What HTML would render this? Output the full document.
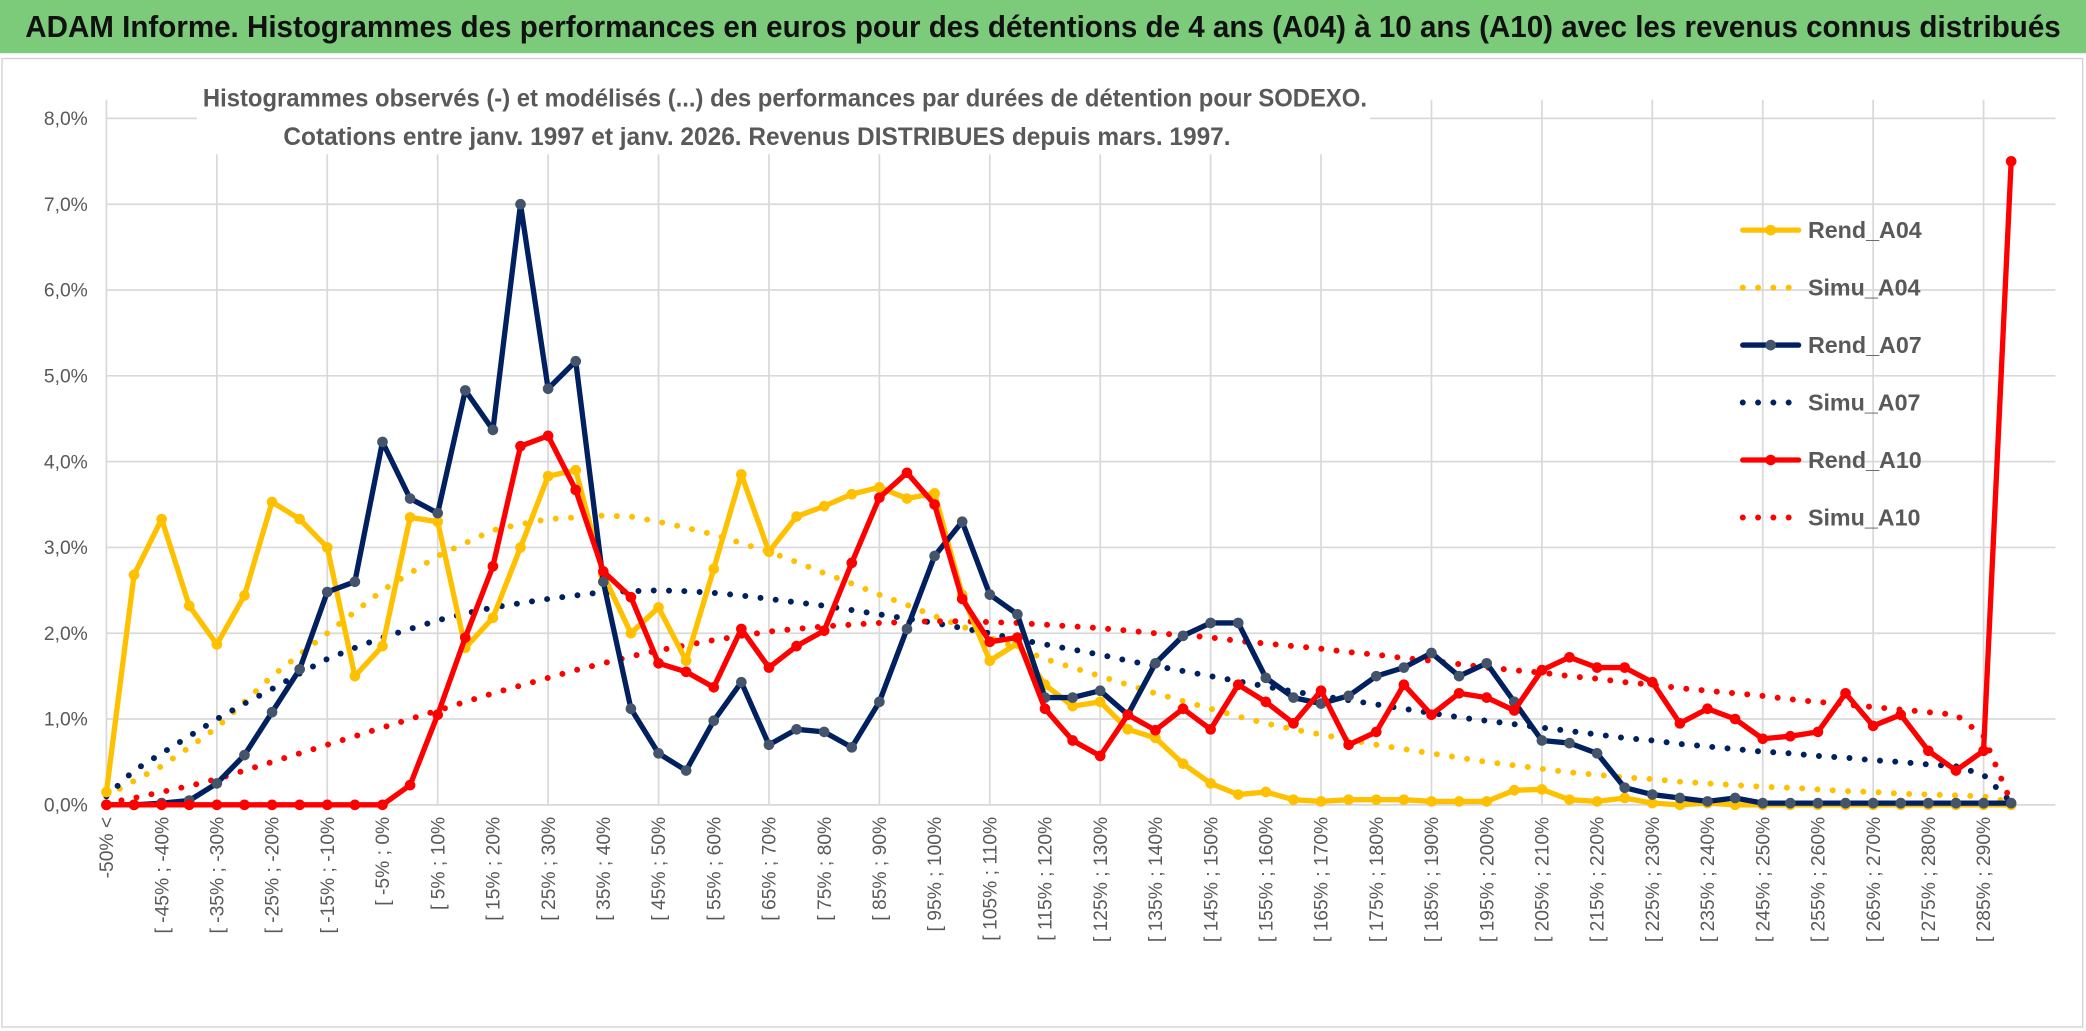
<!DOCTYPE html>
<html><head><meta charset="utf-8">
<style>
html,body{margin:0;padding:0;background:#fff;}
svg{display:block;font-family:"Liberation Sans Narrow","Liberation Sans",sans-serif;}
</style></head>
<body>
<svg id="chart" width="2086" height="1031" viewBox="0 0 1568 775" preserveAspectRatio="none" xmlns="http://www.w3.org/2000/svg">
<rect x="0" y="0" width="1568" height="775" fill="#fff"/>
<rect x="0" y="0" width="1568" height="40" fill="#7ccb7b"/>
<text x="784" y="28" text-anchor="middle" font-size="23" font-weight="bold" fill="#111" textLength="1530" lengthAdjust="spacingAndGlyphs">ADAM Informe. Histogrammes des performances en euros pour des détentions de 4 ans (A04) à 10 ans (A10) avec les revenus connus distribués</text>
<rect x="1.5" y="44" width="1564" height="728" fill="none" stroke="#d0d0d0" stroke-width="1"/>
<g id="grid"></g>
<rect x="148" y="58" width="882" height="58" fill="#fff"/>
<text x="590" y="80" text-anchor="middle" font-size="18.5" font-weight="bold" fill="#595959" textLength="875" lengthAdjust="spacingAndGlyphs">Histogrammes observés (-) et modélisés (...) des performances par durées de détention pour SODEXO.</text>
<text x="569" y="109" text-anchor="middle" font-size="18.5" font-weight="bold" fill="#595959" textLength="712" lengthAdjust="spacingAndGlyphs">Cotations entre janv. 1997 et janv. 2026. Revenus DISTRIBUES depuis mars. 1997.</text>
<g id="axes"></g>
<g id="series"></g>
<g id="legend"></g>
</svg>
<script>
const categories = ["-50% <"];
for (let k = 1; k < 70; k++) { const a = -50 + 5 * (k - 1); categories.push("[ " + a + "% ; " + (a + 5) + "%"); }
const yTicks = [0,1,2,3,4,5,6,7,8];
const seriesNames = ["Rend_A04","Simu_A04","Rend_A07","Simu_A07","Rend_A10","Simu_A10"];
const rendA04 = [0.15,2.68,3.33,2.32,1.87,2.44,3.53,3.33,3.0,1.5,1.85,3.35,3.3,1.83,2.18,3.0,3.83,3.9,2.68,2.0,2.3,1.68,2.75,3.85,2.95,3.36,3.48,3.62,3.7,3.57,3.63,2.45,1.68,1.88,1.4,1.15,1.2,0.88,0.78,0.48,0.25,0.12,0.15,0.06,0.04,0.06,0.06,0.06,0.04,0.04,0.04,0.17,0.18,0.06,0.04,0.08,0.02,0.0,0.02,0.0,0,0,0,0,0,0,0,0,0,0];
const simuA04 = [0.1,0.28,0.45,0.67,0.9,1.2,1.5,1.75,2.0,2.25,2.5,2.7,2.9,3.05,3.2,3.27,3.33,3.35,3.37,3.36,3.3,3.23,3.15,3.05,2.95,2.83,2.7,2.58,2.45,2.33,2.2,2.08,1.95,1.83,1.7,1.6,1.5,1.4,1.3,1.21,1.12,1.03,0.95,0.88,0.82,0.76,0.7,0.65,0.6,0.55,0.5,0.46,0.42,0.38,0.35,0.32,0.3,0.27,0.25,0.23,0.21,0.2,0.18,0.16,0.15,0.13,0.12,0.11,0.1,0.03];
const rendA07 = [0.0,0.0,0.02,0.05,0.25,0.58,1.08,1.58,2.48,2.6,4.23,3.57,3.4,4.83,4.37,7.0,4.85,5.17,2.6,1.12,0.6,0.4,0.98,1.43,0.7,0.88,0.85,0.67,1.2,2.05,2.9,3.3,2.45,2.22,1.25,1.25,1.33,1.05,1.65,1.97,2.12,2.12,1.48,1.25,1.18,1.27,1.5,1.6,1.77,1.5,1.65,1.2,0.75,0.72,0.6,0.2,0.12,0.08,0.04,0.08,0.02,0.02,0.02,0.02,0.02,0.02,0.02,0.02,0.02,0.02];
const simuA07 = [0.1,0.4,0.6,0.8,1.0,1.18,1.35,1.53,1.7,1.83,1.95,2.05,2.15,2.23,2.3,2.35,2.4,2.44,2.48,2.49,2.5,2.49,2.47,2.44,2.4,2.36,2.32,2.27,2.22,2.17,2.12,2.06,2.0,1.93,1.87,1.81,1.75,1.68,1.62,1.56,1.5,1.44,1.38,1.32,1.27,1.22,1.17,1.12,1.07,1.02,0.98,0.94,0.9,0.86,0.82,0.78,0.75,0.71,0.68,0.65,0.62,0.6,0.57,0.55,0.52,0.5,0.47,0.45,0.35,0.03];
const rendA10 = [0,0,0,0,0,0,0,0,0,0,0.0,0.23,1.05,1.95,2.78,4.18,4.3,3.67,2.72,2.42,1.65,1.55,1.37,2.05,1.6,1.85,2.03,2.82,3.58,3.87,3.5,2.4,1.9,1.95,1.12,0.75,0.57,1.05,0.87,1.12,0.88,1.4,1.2,0.95,1.33,0.7,0.85,1.4,1.05,1.3,1.25,1.1,1.57,1.72,1.6,1.6,1.43,0.95,1.12,1.0,0.77,0.8,0.85,1.3,0.92,1.05,0.63,0.4,0.63,7.5];
const simuA10 = [0.02,0.08,0.15,0.22,0.3,0.4,0.5,0.6,0.7,0.8,0.9,1.0,1.1,1.2,1.3,1.39,1.48,1.57,1.65,1.73,1.8,1.86,1.92,1.97,2.02,2.05,2.08,2.1,2.12,2.13,2.14,2.14,2.13,2.12,2.1,2.08,2.06,2.03,2.0,1.98,1.95,1.91,1.88,1.85,1.82,1.78,1.75,1.71,1.68,1.64,1.6,1.57,1.54,1.5,1.47,1.43,1.4,1.36,1.33,1.3,1.27,1.23,1.2,1.17,1.14,1.11,1.08,1.05,0.8,0.03];

const NS = "http://www.w3.org/2000/svg";
const X0 = 80, DX = 20.75, Y0 = 605, DY = 64.5;
function xPos(i){ return X0 + i * DX; }
function yPos(v){ return Y0 - v * DY; }
function mk(tag, attrs, parent){ const e = document.createElementNS(NS, tag); for (const k in attrs) e.setAttribute(k, attrs[k]); parent.appendChild(e); return e; }

const grid = document.getElementById('grid');
yTicks.forEach(t => {
  if (t === 0) return;
  const l = mk('line', {x1: X0, x2: 1545, y1: yPos(t), y2: yPos(t), stroke: '#d9d9d9', 'stroke-width': 1.3}, grid);
  
  
});
for (let i = 0; i < categories.length; i += 4) {
  const l = mk('line', {x1: xPos(i), x2: xPos(i), y1: yPos(8) - 14, y2: Y0, stroke: '#d9d9d9', 'stroke-width': 1.3}, grid);
  
  
}

const axes = document.getElementById('axes');
const xa = mk('line', {x1: X0, x2: 1545, y1: Y0, y2: Y0, stroke: '#d9d9d9', 'stroke-width': 1.3}, axes);


yTicks.forEach(t => {
  const tx = mk('text', {x: 66, y: yPos(t) + 5, 'text-anchor': 'end', 'font-size': 14.5, fill: '#595959'}, axes);
  tx.textContent = t.toFixed(1).replace('.', ',') + '%';
  
  
});
for (let i = 0; i < categories.length; i += 2) {
  const x = xPos(i) + 5, y = 614;
  const tx = mk('text', {x: x, y: y, 'text-anchor': 'end', 'font-size': 14.5, fill: '#595959', transform: 'rotate(-90 ' + x + ' ' + y + ')'}, axes);
  tx.textContent = categories[i];
  
  
}

const series = document.getElementById('series');
function drawSimu(vals, color, name){
  const pts = vals.map((v, i) => xPos(i) + ',' + yPos(v)).join(' ');
  const p = mk('polyline', {points: pts, fill: 'none', stroke: color, 'stroke-width': 4.5, 'stroke-linecap': 'round', 'stroke-dasharray': '0 11.5'}, series);
  
  
}
function drawRend(vals, color, mcolor, name){
  const pts = vals.map((v, i) => xPos(i) + ',' + yPos(v)).join(' ');
  const p = mk('polyline', {points: pts, fill: 'none', stroke: color, 'stroke-width': 4, 'stroke-linejoin': 'round'}, series);
  
  
  vals.forEach((v, i) => {
    const c = mk('circle', {cx: xPos(i), cy: yPos(v), r: 4, fill: mcolor}, series);
    
    
  });
}
drawSimu(simuA04, '#ffc000', 'simu-a04-line');
drawSimu(simuA07, '#002060', 'simu-a07-line');
drawSimu(simuA10, '#ff0000', 'simu-a10-line');
drawRend(rendA04, '#ffc000', '#ffc000', 'rend-a04-line');
drawRend(rendA07, '#002060', '#44546a', 'rend-a07-line');
drawRend(rendA10, '#ff0000', '#ff0000', 'rend-a10-line');

const legend = document.getElementById('legend');
const legendColors = ['#ffc000','#ffc000','#002060','#002060','#ff0000','#ff0000'];
seriesNames.forEach((n, k) => {
  const y = 173 + k * 43.2;
  const dotted = n.startsWith('Simu');
  const l = mk('line', {x1: 1310, x2: 1352, y1: y, y2: y, stroke: legendColors[k], 'stroke-width': dotted ? 4.5 : 4, 'stroke-linecap': 'round'}, legend);
  if (dotted) l.setAttribute('stroke-dasharray', '0 11.5');
  
  
  if (!dotted) {
    const c = mk('circle', {cx: 1331, cy: y, r: 4, fill: k === 2 ? '#44546a' : legendColors[k]}, legend);
    
    
  }
  const t = mk('text', {x: 1359, y: y + 6, 'font-size': 17.5, 'font-weight': 'bold', fill: '#595959'}, legend);
  t.textContent = n;
  
  
});
</script>
</body></html>
